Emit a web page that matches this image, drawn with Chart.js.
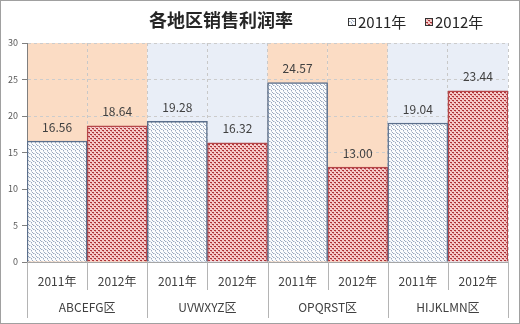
<!DOCTYPE html>
<html>
<head>
<meta charset="utf-8">
<script src="https://cdn.jsdelivr.net/npm/chart.js@4"></script>
<style>
html, body { margin: 0; padding: 0; background: #fff; }
</style>
</head>
<body>
<canvas id="chart" width="520" height="324"></canvas>
<script>
// Chart data
const titleText = '各地区销售利润率';
const seriesNames = ['2011年', '2012年'];
const yearLabels = ['2011年', '2012年', '2011年', '2012年', '2011年', '2012年', '2011年', '2012年'];
const regionLabels = ['ABCEFG区', 'UVWXYZ区', 'OPQRST区', 'HIJKLMN区'];
const values2011 = [16.56, null, 19.28, null, 24.57, null, 19.04, null];
const values2012 = [null, 18.64, null, 16.32, null, 13.00, null, 23.44];
const yMin = 0, yMax = 30, yStep = 5;

const FONT = '"Noto Sans CJK SC", "Noto Sans", sans-serif';
const bandColors = ['#fbdcc4', '#e9eef7'];

// Hatch pattern for 2011 bars
function makeHatch() {
    const c = document.createElement('canvas');
    c.width = 4; c.height = 4;
    const g = c.getContext('2d');
    g.fillStyle = '#fbfcfd';
    g.fillRect(0, 0, 4, 4);
    g.fillStyle = '#9aa9bf';
    g.fillRect(0, 0, 1, 1);
    g.fillRect(1, 1, 1, 1);
    g.fillRect(3, 2, 1, 1);
    g.fillStyle = '#cdd5e1';
    g.fillRect(2, 1, 1, 1);
    g.fillRect(3, 3, 1, 1);
    return g.createPattern(c, 'repeat');
}

// Dot pattern for 2012 bars
function makeDots() {
    const c = document.createElement('canvas');
    c.width = 4; c.height = 4;
    const g = c.getContext('2d');
    g.fillStyle = '#f6cccb';
    g.fillRect(0, 0, 4, 4);
    g.fillStyle = '#ad3236';
    g.fillRect(0, 0, 2, 1);
    g.fillRect(2, 2, 2, 1);
    g.fillStyle = '#de8c8c';
    g.fillRect(1, 1, 1, 1);
    g.fillRect(3, 3, 1, 1);
    return g.createPattern(c, 'repeat');
}

const hatch = makeHatch();
const dots = makeDots();

// Alternating background bands behind each region
const bandPlugin = {
    id: 'bands',
    beforeDraw(chart) {
        const { ctx, chartArea } = chart;
        const w = (chartArea.right - chartArea.left) / yearLabels.length;
        ctx.save();
        yearLabels.forEach((_, i) => {
            ctx.fillStyle = bandColors[Math.floor(i / 2) % 2];
            ctx.fillRect(chartArea.left + i * w, chartArea.top, w, chartArea.bottom - chartArea.top);
        });
        ctx.restore();
    }
};

// Value labels above bars
const valueLabelPlugin = {
    id: 'valueLabels',
    afterDatasetsDraw(chart) {
        const ctx = chart.ctx;
        ctx.save();
        ctx.font = '12px ' + FONT;
        ctx.fillStyle = '#404040';
        ctx.textAlign = 'center';
        ctx.textBaseline = 'middle';
        chart.data.datasets.forEach((ds, di) => {
            chart.getDatasetMeta(di).data.forEach((bar, i) => {
                if (ds.data[i] == null) return;
                ctx.fillText(ds.data[i].toFixed(2), bar.x, bar.y - 14);
            });
        });
        ctx.restore();
    }
};

// Title, legend, category separators, region labels, outer frame
const decorPlugin = {
    id: 'decor',
    afterDraw(chart) {
        const { ctx, chartArea } = chart;
        const w = (chartArea.right - chartArea.left) / yearLabels.length;
        const bottom = chartArea.bottom;
        ctx.save();

        ctx.strokeStyle = '#b4b4b4';
        ctx.lineWidth = 1;
        for (let i = 0; i <= yearLabels.length; i++) {
            const x = Math.round(chartArea.left + i * w) + 0.5;
            ctx.beginPath();
            ctx.moveTo(x, bottom);
            ctx.lineTo(x, i % 2 === 0 ? bottom + 56 : bottom + 28);
            ctx.stroke();
        }

        ctx.font = '12px ' + FONT;
        ctx.fillStyle = '#404040';
        ctx.textAlign = 'center';
        ctx.textBaseline = 'middle';
        regionLabels.forEach((r, i) => {
            ctx.fillText(r, chartArea.left + (i * 2 + 1) * w, bottom + 45);
        });

        ctx.font = 'bold 18px ' + FONT;
        ctx.fillStyle = '#262626';
        ctx.fillText(titleText, 221, 20);

        const fills = [hatch, dots];
        const boxX = [348, 425];
        ctx.font = '15px ' + FONT;
        ctx.textAlign = 'left';
        seriesNames.forEach((name, i) => {
            ctx.fillStyle = fills[i];
            ctx.fillRect(boxX[i], 18, 8, 8);
            ctx.strokeStyle = '#333333';
            ctx.strokeRect(boxX[i] + 0.5, 18.5, 7, 7);
            ctx.fillStyle = '#262626';
            ctx.fillText(name, boxX[i] + 10, 22);
        });

        ctx.strokeStyle = '#a0a0a0';
        ctx.strokeRect(0.5, 0.5, 519, 323);
        ctx.restore();
    }
};

new Chart(document.getElementById('chart'), {
    type: 'bar',
    data: {
        labels: yearLabels,
        datasets: [
            {
                label: seriesNames[0],
                data: values2011,
                backgroundColor: hatch,
                borderColor: '#5b6f8c',
                borderWidth: 1.5,
                grouped: false,
                barPercentage: 1,
                categoryPercentage: 1
            },
            {
                label: seriesNames[1],
                data: values2012,
                backgroundColor: dots,
                borderColor: '#b5474a',
                borderWidth: 1.5,
                grouped: false,
                barPercentage: 1,
                categoryPercentage: 1
            }
        ]
    },
    options: {
        responsive: false,
        animation: false,
        devicePixelRatio: 1,
        layout: { padding: { top: 43, right: 12, bottom: 6, left: 0 } },
        plugins: {
            legend: { display: false },
            title: { display: false },
            tooltip: { enabled: false }
        },
        scales: {
            x: {
                afterFit(scale) { scale.height = 56; },
                grid: { color: '#c8c8c8', offset: true, drawTicks: false },
                border: { color: '#a6a6a6', dash: [3, 3] },
                ticks: { font: { size: 12, family: FONT }, color: '#404040', padding: 12 }
            },
            y: {
                min: yMin,
                max: yMax,
                afterFit(scale) { scale.width = 27; },
                grid: { color: '#cccccc', tickLength: 5, tickColor: '#808080' },
                border: { color: '#7f7f7f', dash: [3, 3] },
                ticks: { stepSize: yStep, font: { size: 9, family: FONT }, color: '#595959', padding: 4 }
            }
        }
    },
    plugins: [bandPlugin, valueLabelPlugin, decorPlugin]
});
</script>
</body>
</html>
